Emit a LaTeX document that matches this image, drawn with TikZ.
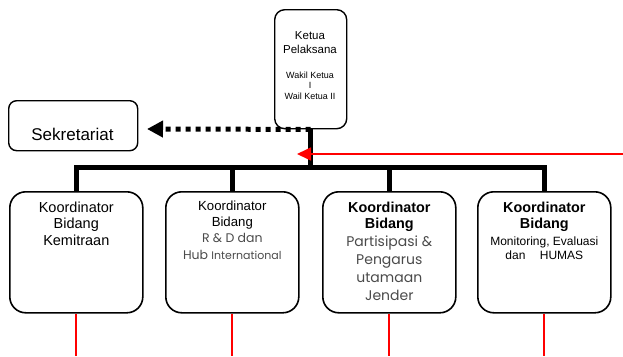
\documentclass[tikz,border=0pt]{standalone}
\usepackage{fontspec}
\setmainfont{Liberation Sans}
\newfontfamily\geofont{Poppins}
\usetikzlibrary{arrows.meta}
\definecolor{greytext}{HTML}{4A4A4A}
\begin{document}
\begin{tikzpicture}[x=1pt,y=-1pt,
  unitbox/.style={draw,line width=1.6pt,rounded corners=16pt,minimum width=133pt,
    minimum height=121pt,anchor=north west,inner sep=0pt},
  topbox/.style={draw,line width=1.4pt,rounded corners=10pt,minimum width=72pt,
    minimum height=119pt,anchor=north west,inner sep=0pt},
  sekbox/.style={draw,line width=1.4pt,rounded corners=8pt,minimum width=129pt,
    minimum height=50pt,anchor=north west,inner sep=0pt},
  txt/.style={anchor=north,align=center,inner sep=0pt},
  bus/.style={line width=5pt},
  redline/.style={draw=red,line width=1.8pt},
  dotarrow/.style={line width=5pt,dash pattern=on 5pt off 5pt,
    -{Triangle[length=16pt,width=16pt,sep=0pt]}},
  redarrow/.style={draw=red,line width=1.6pt,-{Triangle[length=14pt,width=13pt]}}
]
\useasboundingbox (0,0) rectangle (623,356);

% boxes
\node[topbox] (ketua) at (274,9) {};
\node[sekbox] (sek) at (8,100) {};
\node[unitbox] (k1) at (9,191) {};
\node[unitbox] (k2) at (165,191) {};
\node[unitbox] (k3) at (322,191) {};
\node[unitbox] (k4) at (477,191) {};

% helper points
\coordinate (bar) at (0,167);
\coordinate (bottom) at (0,356);
\coordinate (sektip) at (147,129);
\coordinate (redstart) at (623,154);
\coordinate (redtip) at (297,154);

% texts
\node[txt,font=\fontsize{11.5}{14}\selectfont] (ketuat) at (310,31) {Ketua\\Pelaksana};
\node[txt,font=\fontsize{9}{10.5}\selectfont] (wakilt) at (310,71.5) {Wakil Ketua\\I\\Wail Ketua II};
\node[anchor=base,inner sep=0pt,font=\fontsize{17}{20}\selectfont] (sekt) at (72.5,140) {Sekretariat};

\node[txt,font=\fontsize{14.5}{16.5}\selectfont] (k1t) at (k1.north |- 0,201.5) {Koordinator\\Bidang\\Kemitraan};

\node[txt,font=\fontsize{13.2}{16}\selectfont] (k2t) at (k2.north |- 0,200.5) {Koordinator\\Bidang};
\node[txt,font=\geofont\fontsize{12.5}{17}\selectfont,text=greytext] (k2g) at (k2.north |- 0,233.5) {R \& D dan\\Hub {\fontsize{11}{17}\selectfont International}};

\node[txt,font=\bfseries\fontsize{14.4}{16}\selectfont] (k3t) at (k3.north |- 0,201.5) {Koordinator\\Bidang};
\node[txt,font=\geofont\fontsize{14}{18}\selectfont,text=greytext] (k3g) at (k3.north |- 0,236) {Partisipasi \&\\Pengarus\\utamaan\\Jender};

\node[txt,font=\bfseries\fontsize{14.4}{16}\selectfont] (k4t) at (k4.north |- 0,201.5) {Koordinator\\Bidang};
\node[txt,font=\fontsize{12}{13.5}\selectfont] (k4s) at (k4.north |- 0,237) {Monitoring, Evaluasi\\dan\hspace{1.2em}HUMAS};

% black connectors
\draw[bus] (ketua.south) -- (ketua.south |- bar);
\draw[bus,line cap=rect] (k1.north |- bar) -- (k4.north |- bar);
\foreach \k in {k1,k2,k3,k4}
  \draw[bus] (\k.north |- bar) -- (\k.north);

% red lines below the units
\foreach \k in {k1,k2,k3,k4}
  \draw[redline] (\k.south) -- (\k.south |- bottom);

% dotted arrow to the secretariat
\draw[dotarrow] (ketua.south) -- (sektip);

% red incoming arrow
\draw[redarrow] (redstart) -- (redtip);
\end{tikzpicture}
\end{document}
